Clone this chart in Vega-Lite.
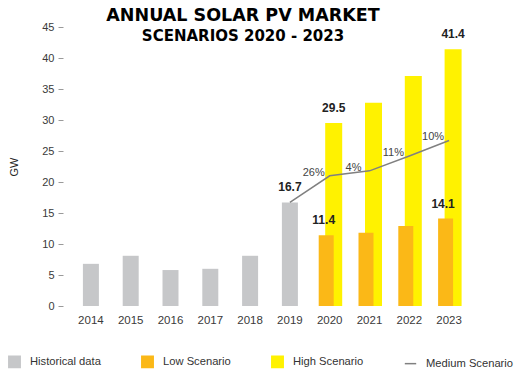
{
  "$schema": "https://vega.github.io/schema/vega-lite/v6.json",
  "autosize": "none",
  "width": 398,
  "height": 279,
  "padding": {"left": 71, "top": 27, "right": 50, "bottom": 66},
  "background": "white",
  "title": {
    "text": "ANNUAL SOLAR PV MARKET",
    "subtitle": "SCENARIOS 2020 - 2023",
    "font": "DejaVu Sans",
    "fontSize": 17.5,
    "fontWeight": "bold",
    "color": "#000000",
    "subtitleFont": "DejaVu Sans",
    "subtitleFontSize": 15,
    "subtitleFontWeight": "bold",
    "subtitleColor": "#000000",
    "subtitlePadding": 5,
    "anchor": "middle",
    "frame": "group",
    "dx": -27,
    "offset": -23
  },
  "config": {
    "view": {"stroke": null},
    "font": "Liberation Sans",
    "axis": {"domain": false, "grid": false, "labelFont": "Liberation Sans", "labelFontSize": 11, "labelColor": "#3a3a3a", "titleFont": "Liberation Sans"}
  },
  "datasets": {
    "bars": [
      {"year": "2014", "series": "Historical data", "value": 6.8, "show": false},
      {"year": "2015", "series": "Historical data", "value": 8.1, "show": false},
      {"year": "2016", "series": "Historical data", "value": 5.8, "show": false},
      {"year": "2017", "series": "Historical data", "value": 6.0, "show": false},
      {"year": "2018", "series": "Historical data", "value": 8.1, "show": false},
      {"year": "2019", "series": "Historical data", "value": 16.7, "show": true},
      {"year": "2020", "series": "High Scenario", "value": 29.5, "show": true},
      {"year": "2021", "series": "High Scenario", "value": 32.8, "show": false},
      {"year": "2022", "series": "High Scenario", "value": 37.1, "show": false},
      {"year": "2023", "series": "High Scenario", "value": 41.4, "show": true},
      {"year": "2020", "series": "Low Scenario", "value": 11.4, "show": true},
      {"year": "2021", "series": "Low Scenario", "value": 11.8, "show": false},
      {"year": "2022", "series": "Low Scenario", "value": 12.9, "show": false},
      {"year": "2023", "series": "Low Scenario", "value": 14.1, "show": true}
    ],
    "medium": [
      {"year": "2019", "value": 16.7, "growth": ""},
      {"year": "2020", "value": 21.0, "growth": "26%"},
      {"year": "2021", "value": 21.8, "growth": "4%"},
      {"year": "2022", "value": 24.2, "growth": "11%"},
      {"year": "2023", "value": 26.7, "growth": "10%"}
    ]
  },
  "encoding": {
    "x": {
      "field": "year", "type": "ordinal",
      "scale": {"domain": ["2014","2015","2016","2017","2018","2019","2020","2021","2022","2023"], "paddingInner": 0, "paddingOuter": 0},
      "axis": {"title": null, "labelAngle": 0, "ticks": false, "labelPadding": 8, "labelFontSize": 11.5}
    },
    "y": {
      "field": "value", "type": "quantitative",
      "scale": {"domain": [0, 45], "nice": false},
      "axis": {"title": "GW", "titleFontSize": 11, "titleFontWeight": "normal", "titleColor": "#222222", "titlePadding": 22, "values": [0,5,10,15,20,25,30,35,40,45], "offset": 8, "tickSize": 5, "tickColor": "#9a9a9a", "labelPadding": 4}
    }
  },
  "layer": [
    {
      "data": {"name": "bars"},
      "transform": [{"filter": "datum.series === 'Historical data'"}],
      "mark": {"type": "bar", "width": 16},
      "encoding": {
        "color": {
          "field": "series", "type": "nominal",
          "scale": {"domain": ["Historical data", "Low Scenario", "High Scenario", "Medium Scenario"], "range": ["#c6c7c9", "#fbb817", "#fff200", "#808080"]},
          "legend": {
            "title": null,
            "orient": "none",
            "direction": "horizontal",
            "legendX": -63,
            "legendY": 328,
            "padding": 0,
            "columnPadding": 37,
            "symbolSize": 130,
            "symbolType": "square",
            "labelFont": "Liberation Sans",
            "labelFontSize": 11.2,
            "labelColor": "#333333",
            "labelOffset": 9,
            "labelLimit": 200,
            "encode": {
              "symbols": {
                "update": {
                  "shape": {"signal": "datum.label === 'Medium Scenario' ? 'stroke' : 'square'"},
                  "fill": {"signal": "scale('color', datum.value)"},
                  "stroke": {"signal": "scale('color', datum.value)"},
                  "strokeWidth": {"value": 1.5},
                  "opacity": {"value": 1}
                }
              }
            }
          }
        }
      }
    },
    {
      "data": {"name": "bars"},
      "transform": [{"filter": "datum.series === 'High Scenario'"}],
      "mark": {"type": "bar", "width": 17, "xOffset": 4},
      "encoding": {"color": {"field": "series", "type": "nominal"}}
    },
    {
      "data": {"name": "bars"},
      "transform": [{"filter": "datum.series === 'Low Scenario'"}],
      "mark": {"type": "bar", "width": 15, "xOffset": -3.5},
      "encoding": {"color": {"field": "series", "type": "nominal"}}
    },
    {
      "data": {"name": "medium"},
      "mark": {"type": "line", "color": "#808080", "strokeWidth": 1.5},
      "encoding": {}
    },
    {
      "data": {"name": "medium"},
      "mark": {"type": "text", "dx": -16, "dy": -3, "baseline": "middle", "fontSize": 11, "color": "#444444"},
      "encoding": {"text": {"field": "growth"}}
    },
    {
      "data": {"name": "bars"},
      "transform": [{"filter": "datum.show && datum.series === 'Historical data'"}],
      "mark": {"type": "text", "dy": -8, "baseline": "bottom", "fontSize": 12, "fontWeight": "bold", "color": "#222222"},
      "encoding": {"text": {"field": "value", "format": ".1f"}}
    },
    {
      "data": {"name": "bars"},
      "transform": [{"filter": "datum.show && datum.series === 'High Scenario'"}],
      "mark": {"type": "text", "dx": 4, "dy": -8, "baseline": "bottom", "fontSize": 12, "fontWeight": "bold", "color": "#222222"},
      "encoding": {"text": {"field": "value", "format": ".1f"}}
    },
    {
      "data": {"name": "bars"},
      "transform": [{"filter": "datum.show && datum.series === 'Low Scenario'"}],
      "mark": {"type": "text", "dx": -6, "dy": -8, "baseline": "bottom", "fontSize": 12, "fontWeight": "bold", "color": "#222222"},
      "encoding": {"text": {"field": "value", "format": ".1f"}}
    }
  ]
}
